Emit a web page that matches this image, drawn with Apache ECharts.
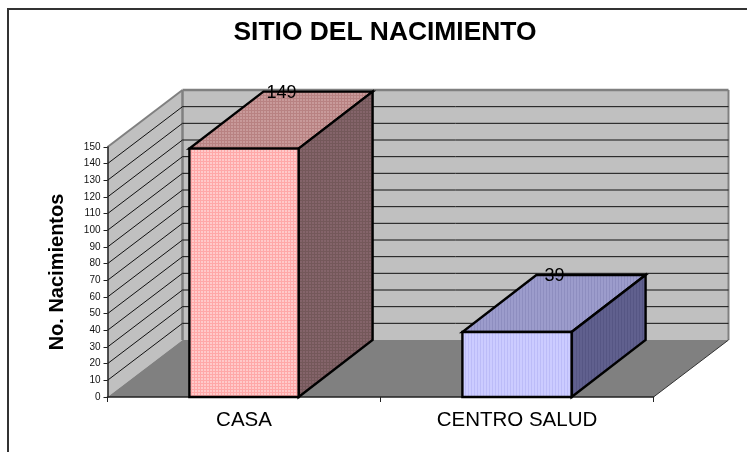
<!DOCTYPE html>
<html>
<head>
<meta charset="utf-8">
<style>html,body{margin:0;padding:0;background:#fff}#c{width:747px;height:452px}</style>
<script src="https://cdn.jsdelivr.net/npm/echarts@6/dist/echarts.min.js"></script>
</head>
<body>
<div id="c"></div>
<script>
var categories = ['CASA', 'CENTRO SALUD'];
var nacimientos = [149, 39];
var gridValues = [0, 10, 20, 30, 40, 50, 60, 70, 80, 90, 100, 110, 120, 130, 140, 150];
var chartTitle = 'SITIO DEL NACIMIENTO';
var axisTitle = 'No. Nacimientos';

// oblique projection of the chart's depth
var DX = 75, DY = 57;
var BAR_DX = 74;
var BAR_RATIO = 0.4;

function pattern(a, b, kind) {
  var c = document.createElement('canvas');
  c.width = 3; c.height = 3;
  var g = c.getContext('2d');
  g.fillStyle = a; g.fillRect(0, 0, 3, 3);
  g.fillStyle = b;
  if (kind === 'stripe') { g.fillRect(0, 0, 1, 3); }
  else { g.fillRect(0, 0, 2, 2); }
  return { image: c, repeat: 'repeat' };
}
var faces = [
  { front: pattern('#ffa8a8', '#ffcaca', 'dot'), top: pattern('#b88282', '#c89a9a', 'dot'), side: pattern('#74585a', '#84646a', 'dot') },
  { front: pattern('#ccccff', '#bcbcf8', 'stripe'), top: pattern('#9c9ccc', '#8e8ec0', 'stripe'), side: pattern('#60608e', '#565684', 'stripe') }
];

function poly(points, fill, stroke, lw) {
  return { type: 'polygon', shape: { points: points }, style: { fill: fill, stroke: stroke || 'none', lineWidth: lw || 0, lineJoin: 'miter' } };
}
function seg(x1, y1, x2, y2, stroke, lw) {
  return { type: 'line', shape: { x1: x1, y1: y1, x2: x2, y2: y2 }, style: { stroke: stroke, lineWidth: lw } };
}

function renderWalls(params, api) {
  var v = api.value(0);
  var cs = params.coordSys;
  var xl = cs.x, xr = cs.x + cs.width;
  var y = api.coord([0, v])[1];
  var y0 = api.coord([0, 0])[1], yt = api.coord([0, 150])[1];
  var kids = [];
  if (v === 0) {
    kids.push(poly([[xl + DX, yt - DY], [xr + DX, yt - DY], [xr + DX, y0 - DY], [xl + DX, y0 - DY]], '#c0c0c0'));
    kids.push(poly([[xl, yt], [xl + DX, yt - DY], [xl + DX, y0 - DY], [xl, y0]], '#c0c0c0'));
    kids.push(poly([[xl, y0], [xr, y0], [xr + DX, y0 - DY], [xl + DX, y0 - DY]], '#808080'));
    kids.push(seg(xl + DX, yt - DY, xl + DX, y0 - DY, '#808080', 2.5));
    kids.push(seg(xr + DX, yt - DY, xr + DX, y0 - DY, '#808080', 2));
    kids.push(seg(xr, y0, xr + DX, y0 - DY, '#333', 1));
  } else if (v === 150) {
    kids.push(seg(xl, y, xl + DX, y - DY, '#808080', 2));
    kids.push(seg(xl + DX, y - DY, xr + DX, y - DY, '#808080', 2.5));
  } else {
    kids.push(seg(xl, y, xl + DX, y - DY, '#111', 1));
    kids.push(seg(xl + DX, y - DY, xr + DX, y - DY, '#111', 1));
  }
  return { type: 'group', children: kids };
}

function renderBars(params, api) {
  var i = api.value(0), v = api.value(1);
  var top = api.coord([i, v]), base = api.coord([i, 0]);
  var w = api.size([1, 0])[0] * BAR_RATIO;
  var l = top[0] - w / 2, r = top[0] + w / 2;
  var f = faces[i];
  var black = '#000';
  return {
    type: 'group',
    children: [
      poly([[l, top[1]], [r, top[1]], [r + BAR_DX, top[1] - DY], [l + BAR_DX, top[1] - DY]], f.top, black, 2.4),
      poly([[r, top[1]], [r + BAR_DX, top[1] - DY], [r + BAR_DX, base[1] - DY], [r, base[1]]], f.side, black, 2.4),
      poly([[l, top[1]], [r, top[1]], [r, base[1]], [l, base[1]]], f.front, black, 2.4),
      {
        type: 'text', z2: 10,
        style: {
          x: top[0] + BAR_DX / 2 + 0.5, y: top[1] - DY + 1,
          text: String(v), fill: '#000', align: 'center', verticalAlign: 'middle',
          font: '18px "Liberation Sans", Arial, sans-serif'
        }
      }
    ]
  };
}

var chart = echarts.init(document.getElementById('c'), null, { renderer: 'canvas' });
chart.setOption({
  animation: false,
  backgroundColor: '#fff',
  title: {
    text: chartTitle, left: 380, top: 15, textAlign: 'center',
    textStyle: { fontFamily: '"Liberation Sans"', fontWeight: 'bold', fontSize: 26.4, color: '#000' }
  },
  grid: { left: 107.5, top: 147, width: 546, height: 250 },
  xAxis: {
    type: 'category', data: categories, z: 6,
    axisLine: { lineStyle: { color: '#222', width: 1.5 } },
    axisTick: { show: true, length: 5, alignWithLabel: false, lineStyle: { color: '#222' } },
    axisLabel: { fontFamily: '"Liberation Sans"', fontSize: 20.5, color: '#000', margin: 13 },
    splitLine: { show: false }
  },
  yAxis: {
    type: 'value', min: 0, max: 150, interval: 10, z: 6,
    name: axisTitle, nameLocation: 'middle', nameGap: 40,
    nameTextStyle: { fontFamily: '"Liberation Sans"', fontWeight: 'bold', fontSize: 20, color: '#000' },
    axisLine: { show: true, lineStyle: { color: '#222', width: 1.5 } },
    axisTick: { show: true, length: 4, lineStyle: { color: '#222' } },
    axisLabel: { fontFamily: '"Liberation Sans"', fontSize: 10, color: '#111', margin: 7 },
    splitLine: { show: false }
  },
  graphic: [
    { type: 'line', z: 100, shape: { x1: 7, y1: 9, x2: 747, y2: 9 }, style: { stroke: '#333', lineWidth: 2 } },
    { type: 'line', z: 100, shape: { x1: 8, y1: 8, x2: 8, y2: 452 }, style: { stroke: '#333', lineWidth: 2 } }
  ],
  series: [
    { type: 'custom', z: 1, renderItem: renderWalls, data: gridValues.map(function (v) { return [v]; }), encode: { y: 0 }, silent: true },
    { type: 'custom', z: 8, renderItem: renderBars, data: nacimientos.map(function (v, i) { return [i, v]; }), encode: { x: 0, y: 1 }, silent: true }
  ]
});
</script>
</body>
</html>
